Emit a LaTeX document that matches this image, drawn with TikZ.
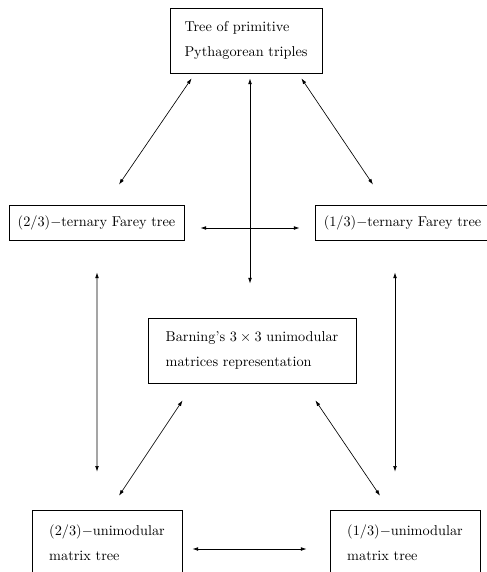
\documentclass[tikz,border=0pt]{standalone}
\usetikzlibrary{arrows.meta}

\tikzset{
    treebox/.style={draw, line width=0.6pt, align=left, minimum height=45.5pt,
        font=\fontsize{10}{17.5}\selectfont},
    link/.style={<->, line width=0.45pt, >={Latex[length=4pt, width=2.6pt]}}
}

\begin{document}
\begin{tikzpicture}[x=0.7pt, y=-0.7pt]
    \useasboundingbox (0,0) rectangle (487,572);

    \node[treebox, minimum width=106.4pt] (top) at (246,40.5) {Tree of primitive\\Pythagorean triples};
    \node[treebox, minimum width=122.5pt, minimum height=24.5pt] (farl) at (96.5,222.5) {$(2/3)-$ternary Farey tree};
    \node[treebox, minimum width=122.5pt, minimum height=24.5pt] (farr) at (402.5,222.5) {$(1/3)-$ternary Farey tree};
    \node[treebox, minimum width=145.6pt] (barn) at (252,350.5) {Barning's $3\times3$ unimodular\\matrices representation};
    \node[treebox, minimum width=105pt, minimum height=46pt] (unil) at (107,543) {$(2/3)-$unimodular\\matrix tree};
    \node[treebox, minimum width=105pt, minimum height=46pt] (unir) at (405,543) {$(1/3)-$unimodular\\matrix tree};

    \draw[link] ([shift={(22,5)}]top.south west) -- ([shift={(22.5,-20)}]farl.north);
    \draw[link] ([shift={(-21,5)}]top.south east) -- ([shift={(-29.5,-20)}]farr.north);
    \draw[link] ([shift={(4,5)}]top.south) -- ([shift={(-2,-34)}]barn.north);
    \draw[link] ([shift={(16,5.5)}]farl.east) -- ([shift={(-15,5.5)}]farr.west);

    \draw[link] ([shift={(0.5,32)}]farl.south) -- ([shift={(-10,-38)}]unil.north);
    \draw[link] ([shift={(-7.5,32)}]farr.south) -- ([shift={(-10,-38)}]unir.north);

    \draw[link] ([shift={(35,17)}]barn.south west) -- ([shift={(12,-14)}]unil.north);
    \draw[link] ([shift={(-41,17)}]barn.south east) -- ([shift={(-25,-14)}]unir.north);
    \draw[link] ([shift={(10,6)}]unil.east) -- ([shift={(-23,6)}]unir.west);
\end{tikzpicture}
\end{document}
